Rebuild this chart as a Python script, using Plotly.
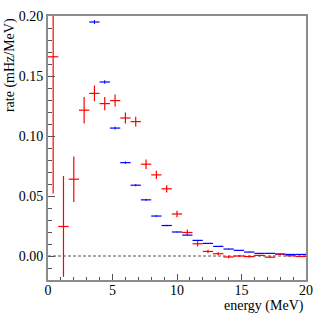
import plotly.graph_objects as go

# red series (bins of 0.8 MeV)
red_x = [0.4, 1.2, 2.0, 2.8, 3.6, 4.4, 5.2, 6.0, 6.8, 7.6, 8.4, 9.2, 10.0, 10.8,
         11.6, 12.4, 13.2, 14.0, 14.8, 15.6, 16.4, 17.2, 18.0, 18.8, 19.6]
red_y = [0.166, 0.0246, 0.064, 0.1215, 0.1355, 0.127, 0.1295, 0.115, 0.112, 0.0765,
         0.0676, 0.056, 0.035, 0.0196, 0.0102, 0.0038, 0.0019, -0.0008, 0.0, -0.0005,
         0.0005, -0.001, 0.0017, 0.0002, -0.0004]
red_err = [0.114, 0.042, 0.019, 0.011, 0.0065, 0.0055, 0.005, 0.0045, 0.004, 0.004,
           0.0035, 0.003, 0.0028, 0.0025, 0.002, 0.0015, 0.0012, 0.001, 0.0008, 0.0007,
           0.0006, 0.0006, 0.0005, 0.0005, 0.0005]

# blue series
blue_x = [3.6, 4.4, 5.2, 6.0, 6.8, 7.6, 8.4, 9.2, 10.0, 10.8, 11.6, 12.4, 13.2, 14.0,
          14.8, 15.6, 16.4, 17.2, 18.0, 18.8, 19.6]
blue_y = [0.195, 0.145, 0.1066, 0.0778, 0.059, 0.0468, 0.0333, 0.0254, 0.020, 0.0174,
          0.013, 0.0105, 0.008, 0.0058, 0.0047, 0.0033, 0.0022, 0.0022, 0.0015, 0.0013,
          0.0013]
blue_err = [0.0017, 0.0015, 0.0012, 0.001, 0.0009, 0.0008, 0.0007, 0.0006, 0.0005, 0.0005,
            0.0004, 0.0004, 0.0003, 0.0003, 0.0003, 0.0003, 0.0002, 0.0002, 0.0002, 0.0002,
            0.0002]
half_bin = 0.4

x_ticks = [0, 5, 10, 15, 20]
y_ticks = [0.00, 0.05, 0.10, 0.15, 0.20]

FONT = "'Liberation Serif', 'Times New Roman', 'DejaVu Serif', serif"

fig = go.Figure()
fig.add_trace(go.Scatter(
    x=blue_x, y=blue_y, mode="markers",
    marker=dict(size=1, opacity=0, color="#0000ff"),
    error_x=dict(type="constant", value=half_bin, width=0, thickness=1.2, color="#0000ff"),
    error_y=dict(type="data", array=blue_err, width=0, thickness=1, color="#0000ff"),
    showlegend=False, hoverinfo="skip"))
fig.add_trace(go.Scatter(
    x=red_x, y=red_y, mode="markers",
    marker=dict(size=1, opacity=0, color="#ff0000"),
    error_x=dict(type="constant", value=half_bin, width=0, thickness=1.2, color="#ff0000"),
    error_y=dict(type="data", array=red_err, width=0, thickness=1.2, color="#ff0000"),
    showlegend=False, hoverinfo="skip"))

fig.add_shape(type="line", x0=0, x1=20, y0=0, y1=0, xref="x", yref="y",
              line=dict(color="#555555", width=1, dash="3px,2px"), layer="below")

axis_common = dict(showgrid=False, zeroline=False, showline=True, mirror=True,
                   linecolor="#8c8c8c", linewidth=2, ticks="inside", tickcolor="#555555",
                   automargin=False,
                   tickfont=dict(family=FONT, size=14, color="black"))

fig.update_xaxes(range=[0, 20], tickvals=x_ticks, ticktext=[str(v) for v in x_ticks],
                 ticklen=6, tickwidth=1, ticklabelstandoff=-4,
                 minor=dict(ticks="inside", dtick=1, ticklen=3, tickcolor="#555555"),
                 **axis_common)
fig.update_yaxes(range=[-0.02, 0.2], tickvals=y_ticks,
                 ticktext=["%.2f" % v for v in y_ticks],
                 ticklen=7, tickwidth=1,
                 minor=dict(ticks="inside", dtick=0.01, ticklen=4, tickcolor="#555555"),
                 **axis_common)

fig.add_annotation(text="energy (MeV)", xref="paper", yref="paper", x=1, y=-0.1,
                   xanchor="right", yanchor="middle", showarrow=False,
                   font=dict(family=FONT, size=14, color="black"))
fig.add_annotation(text="rate (mHz/MeV)", xref="paper", yref="paper", x=-0.147, y=1,
                   xanchor="center", yanchor="top", textangle=-90, showarrow=False,
                   font=dict(family=FONT, size=14, color="black"))

fig.update_layout(width=319, height=319, margin=dict(l=48, r=13, t=16, b=39),
                  plot_bgcolor="white", paper_bgcolor="white",
                  font=dict(family=FONT, size=14, color="black"))

fig.write_html("out.html", config={"displayModeBar": False},
               post_script="document.body.style.margin='0';")
